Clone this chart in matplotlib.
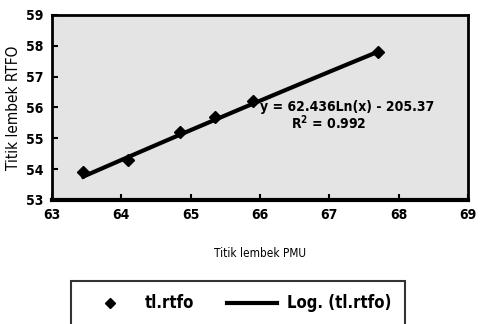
import numpy as np
import matplotlib
matplotlib.use("Agg")
import matplotlib.pyplot as plt

plt.rcParams['font.family'] = ['Liberation Sans Narrow', 'DejaVu Sans']
plt.rcParams['font.stretch'] = 'condensed'
plt.rcParams['font.weight'] = 'bold'

# titik lembek PMU vs titik lembek RTFO
x_pmu = [63.45, 64.1, 64.85, 65.35, 65.9, 67.7]
y_rtfo = [53.9, 54.3, 55.2, 55.7, 56.2, 57.8]
a_log = 62.436
b_log = -205.37
r2 = 0.992

fig = plt.figure(figsize=(4.81, 3.24), dpi=100)
ax = fig.add_axes([0.108, 0.383, 0.865, 0.571])
ax.set_facecolor('#e4e4e4')

xs = np.linspace(min(x_pmu), max(x_pmu), 100)
ax.plot(xs, a_log * np.log(xs) + b_log, color='black', lw=3, label='Log. (tl.rtfo)', zorder=2)
ax.plot(x_pmu, y_rtfo, 'D', color='black', ms=6, label='tl.rtfo', zorder=3)

ax.text(66.0, 56.0, 'y = 62.436Ln(x) - 205.37', fontsize=10, ha='left', va='center')
ax.text(66.45, 55.5, 'R$^2$ = 0.992', fontsize=10, ha='left', va='center')

ax.set_xlim(63, 69)
ax.set_ylim(53, 59)
ax.set_xticks(range(63, 70))
ax.set_yticks(range(53, 60))
ax.tick_params(direction='in', length=4, width=1.5, labelsize=10, pad=6)
for s in ax.spines.values():
    s.set_linewidth(2)
ax.spines['bottom'].set_linewidth(3)

ax.set_xlabel('Titik lembek PMU', fontsize=8.5, labelpad=18)
ax.set_ylabel('Titik lembek RTFO', fontsize=11, labelpad=4)

h, l = ax.get_legend_handles_labels()
leg = fig.legend(h[::-1], l[::-1], loc='upper center', bbox_to_anchor=(0.495, 0.158),
                 ncol=2, fontsize=12, frameon=True, fancybox=False,
                 edgecolor='black', handlelength=3, columnspacing=2.0,
                 borderpad=0.8, markerscale=0.8, handletextpad=0.6)
leg.get_frame().set_linewidth(1.5)

fig.savefig('out.png', dpi=100)
